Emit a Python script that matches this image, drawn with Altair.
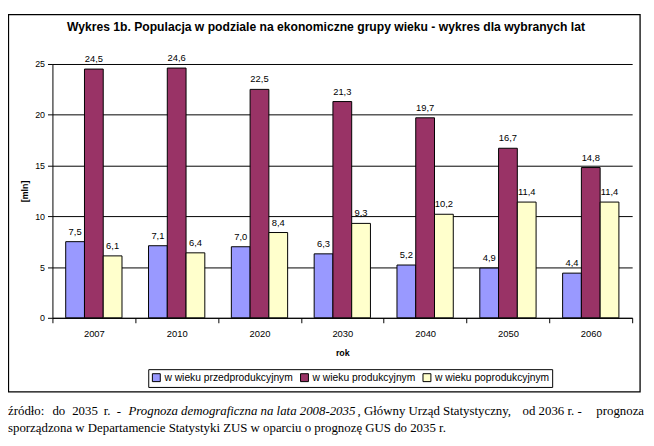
import altair as alt
import pandas as pd

years = ["2007", "2010", "2020", "2030", "2040", "2050", "2060"]
series = ["w wieku przedprodukcyjnym", "w wieku produkcyjnym", "w wieku poprodukcyjnym"]
pre = [7.5, 7.1, 7.0, 6.3, 5.2, 4.9, 4.4]
prod = [24.5, 24.6, 22.5, 21.3, 19.7, 16.7, 14.8]
post = [6.1, 6.4, 8.4, 9.3, 10.2, 11.4, 11.4]
colors = ["#9999FF", "#993366", "#FFFFCC"]
y_ticks = [0, 5, 10, 15, 20, 25]

title_text = "Wykres 1b. Populacja w podziale na ekonomiczne grupy wieku - wykres dla wybranych lat"
src1_words = ["źródło:", "do", "2035", "r.", "-"]
src1b = "Prognoza demograficzna na lata 2008-2035"
src1c = ", Główny Urząd Statystyczny,"
src1d = "od 2036 r. -"
src1e = "prognoza"
src2 = "sporządzona w Departamencie Statystyki ZUS w oparciu o prognozę GUS do 2035 r."

rows = []
for s, vals in zip(series, [pre, prod, post]):
    for yr, v in zip(years, vals):
        rows.append({"rok": yr, "grupa": s, "mln": v,
                     "label": f"{v:.1f}".replace(".", ",")})
df = pd.DataFrame(rows)
one = pd.DataFrame({"a": [0]})

W, H = 587, 257
FONT = "Liberation Sans"
SERIF = "Liberation Serif"

x_enc = alt.X("rok:N", sort=years,
              scale=alt.Scale(paddingInner=0, paddingOuter=0),
              axis=alt.Axis(title="rok", tickBand="extent", labelAngle=0,
                            tickSize=5, labelPadding=6, titlePadding=11,
                            labelFontSize=9.5,
                            titleFontWeight="bold", grid=False))
xo_enc = alt.XOffset("grupa:N", sort=series,
                     scale=alt.Scale(domain=series, paddingInner=0, paddingOuter=0.707))
y_enc = alt.Y("mln:Q", scale=alt.Scale(domain=[0, 25], nice=False),
              axis=alt.Axis(values=y_ticks, title="[mln]", tickSize=5,
                            labelPadding=3, titlePadding=5,
                            titleFontWeight="bold", grid=True))

bars = alt.Chart(df).mark_bar(stroke="black", strokeWidth=1).encode(
    x=x_enc, xOffset=xo_enc, y=y_enc,
    fill=alt.Fill("grupa:N", sort=series,
                  scale=alt.Scale(domain=series, range=colors),
                  legend=alt.Legend(orient="none", legendX=97, legendY=309,
                                    direction="horizontal", title=None,
                                    strokeColor="black", padding=3,
                                    symbolType="square", symbolSize=64,
                                    symbolStrokeColor="black", symbolStrokeWidth=1,
                                    labelFont=FONT, labelFontSize=10.4,
                                    labelColor="black", labelOffset=3,
                                    columnPadding=5))
)

labels = alt.Chart(df).mark_text(baseline="alphabetic", dy=-7, fontSize=9.5,
                                 font=FONT, color="black").encode(
    x=alt.X("rok:N", sort=years), xOffset=alt.XOffset("grupa:N", sort=series),
    y="mln:Q", text="label:N")

frame = alt.Chart(one).mark_rect(fill="transparent", stroke="black", strokeWidth=1.3).encode(
    x=alt.value(-44.5), x2=alt.value(595), y=alt.value(-50), y2=alt.value(332))

title = alt.Chart(one).mark_text(text=title_text, font=FONT, fontSize=12.3,
                                 fontWeight="bold", align="center",
                                 baseline="middle", color="black").encode(
    x=alt.value(277), y=alt.value(-37))


def src(text, xpos, ypos, italic=False, align="left"):
    kw = dict(text=text, font=SERIF, fontSize=13, align=align,
              baseline="alphabetic", color="black")
    if italic:
        kw["fontStyle"] = "italic"
    return alt.Chart(one).mark_text(**kw).encode(x=alt.value(xpos), y=alt.value(ypos))


word_x = [-45, 0, 20, 52, 65]
texts = [src(w, xp, 355) for w, xp in zip(src1_words, word_x)] + [
    src(src1b, 77, 355, italic=True),
    src(src1c, 309, 355),
    src(src1d, 476, 355),
    src(src1e, 599, 355, align="right"),
    src(src2, -45, 373),
]

chart = alt.layer(frame, bars, labels, title, *texts).properties(
    width=W, height=H,
    padding={"left": 45, "top": 54, "right": 14, "bottom": 119},
    autosize=alt.AutoSizeParams(type="none"),
).configure_view(stroke=None).configure_axis(
    domainColor="black", tickColor="black", gridColor="black", gridOpacity=1,
    labelColor="black", titleColor="black", labelFont=FONT, titleFont=FONT,
    labelFontSize=9, titleFontSize=9,
)

chart.save("out.html", embed_options={"renderer": "svg", "actions": False})
